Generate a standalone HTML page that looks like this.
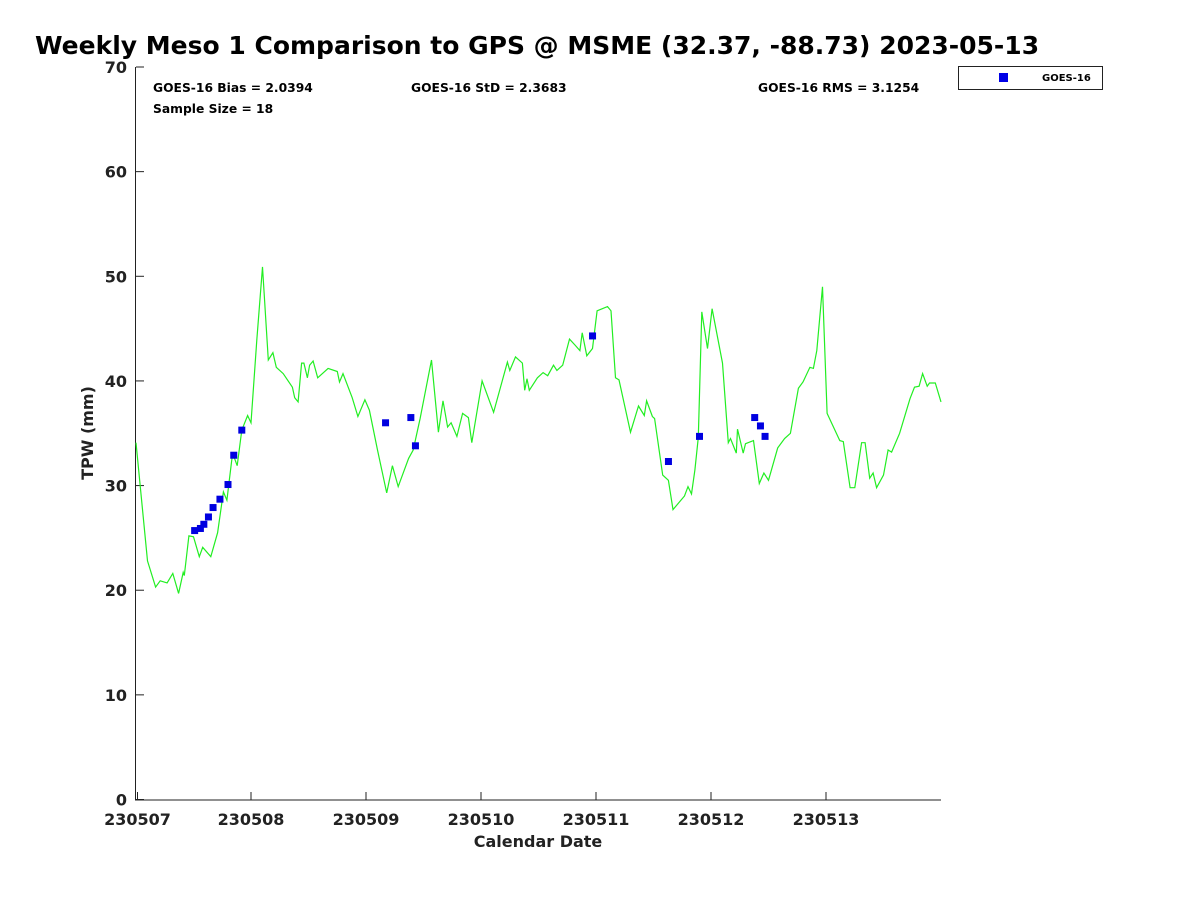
<!DOCTYPE html>
<html><head><meta charset="utf-8"><style>
body{margin:0;background:#fff;}
svg text{font-family:"DejaVu Sans","Liberation Sans",sans-serif;font-weight:bold;fill:#222;}
</style></head><body>
<svg id="chart" width="1200" height="900" xmlns="http://www.w3.org/2000/svg">
<rect width="1200" height="900" fill="#fff"/>
<text x="35" y="54" font-size="25" style="fill:#000">Weekly Meso 1 Comparison to GPS @ MSME (32.37, -88.73) 2023-05-13</text>
<g id="axes"></g>
<g id="series"></g>
<text x="153" y="92" font-size="12.3" style="fill:#000">GOES-16 Bias = 2.0394</text>
<text x="411" y="92" font-size="12.3" style="fill:#000">GOES-16 StD = 2.3683</text>
<text x="758" y="92" font-size="12.3" style="fill:#000">GOES-16 RMS = 3.1254</text>
<text x="153" y="113" font-size="12.3" style="fill:#000">Sample Size = 18</text>
<g>
<rect x="958.5" y="66.5" width="144" height="23" fill="#fff" stroke="#222" stroke-width="1"/>
<rect x="999" y="73" width="9" height="9" fill="#0000e6"/>
<text x="1042" y="81" font-size="10" style="fill:#000">GOES-16</text>
</g>
<text x="538" y="847" font-size="16" text-anchor="middle">Calendar Date</text>
<text transform="translate(93,433) rotate(-90)" font-size="16" text-anchor="middle">TPW (mm)</text>
</svg>
<script>
const xTickLabels=["230507","230508","230509","230510","230511","230512","230513"];
const yTicks=[0,10,20,30,40,50,60,70];
const gpsDays=[0,.10,.17,.21,.27,.32,.37,.41,.42,.46,.50,.55,.58,.65,.71,.76,.79,.84,.88,.92,.97,1.00,1.05,1.10,1.15,1.19,1.22,1.28,1.36,1.38,1.41,1.44,1.46,1.49,1.51,1.54,1.58,1.67,1.75,1.77,1.80,1.88,1.93,1.99,2.03,2.10,2.18,2.23,2.28,2.37,2.41,2.47,2.57,2.63,2.67,2.71,2.74,2.79,2.84,2.89,2.92,3.01,3.11,3.23,3.25,3.30,3.36,3.38,3.40,3.42,3.49,3.54,3.58,3.63,3.66,3.71,3.77,3.82,3.86,3.88,3.92,3.97,4.01,4.10,4.13,4.17,4.20,4.30,4.37,4.42,4.44,4.49,4.51,4.58,4.63,4.67,4.77,4.80,4.83,4.86,4.89,4.92,4.97,5.01,5.10,5.15,5.17,5.22,5.23,5.28,5.30,5.37,5.42,5.46,5.50,5.58,5.64,5.69,5.76,5.80,5.86,5.89,5.92,5.97,6.01,6.12,6.15,6.21,6.25,6.31,6.34,6.38,6.41,6.44,6.50,6.54,6.57,6.64,6.73,6.77,6.81,6.84,6.88,6.90,6.95,7.00];
const gpsTPW=[34.1,22.8,20.3,20.9,20.7,21.6,19.7,21.7,21.4,25.2,25.1,23.2,24.1,23.2,25.5,29.4,28.6,33.1,31.9,35.3,36.7,36.0,43.9,50.9,42.0,42.7,41.3,40.7,39.4,38.4,38.0,41.7,41.7,40.3,41.5,41.9,40.3,41.2,40.9,39.9,40.7,38.4,36.6,38.2,37.2,33.4,29.3,31.9,29.9,32.6,33.4,36.4,42.0,35.1,38.1,35.6,36.0,34.7,36.9,36.5,34.1,40.0,37.0,41.8,41.0,42.3,41.7,39.1,40.2,39.1,40.3,40.8,40.5,41.5,41.0,41.5,44.0,43.4,42.9,44.6,42.4,43.1,46.7,47.1,46.7,40.3,40.1,35.1,37.6,36.7,38.1,36.6,36.4,31.0,30.5,27.7,29.0,29.9,29.2,31.5,34.6,46.6,43.1,46.9,41.7,34.1,34.5,33.1,35.4,33.1,34.0,34.3,30.2,31.2,30.5,33.6,34.5,35.0,39.3,39.9,41.3,41.2,42.9,49.0,36.9,34.3,34.2,29.8,29.8,34.1,34.1,30.7,31.2,29.8,31.0,33.4,33.2,35.0,38.3,39.4,39.5,40.7,39.5,39.8,39.8,38.0];
const goesDays=[.51,.56,.59,.63,.67,.73,.80,.85,.92,2.17,2.39,2.43,3.97,4.63,4.90,5.38,5.43,5.47];
const goesTPW=[25.7,25.9,26.3,27.0,27.9,28.7,30.1,32.9,35.3,36.0,36.5,33.8,44.3,32.3,34.7,36.5,35.7,34.7];

const NS="http://www.w3.org/2000/svg";
const X0=136,X1=941,Y0=799.5,Y1=67;
const xs=d=>X0+d/7*(X1-X0);
const ys=v=>Y0-v/70*(Y0-Y1);
function mk(tag,attrs,parent){const e=document.createElementNS(NS,tag);for(const k in attrs)e.setAttribute(k,attrs[k]);parent.appendChild(e);return e;}
const axes=document.getElementById('axes'),series=document.getElementById('series');
let e=mk('line',{x1:135.5,y1:Y1,x2:135.5,y2:800,stroke:'#222','stroke-width':1},axes);


e=mk('line',{x1:135,y1:800,x2:X1,y2:800,stroke:'#222','stroke-width':1},axes);


yTicks.forEach(v=>{
  const y=ys(v);
  let t=mk('line',{x1:136,y1:y,x2:144,y2:y,stroke:'#222'},axes);
  
  
  let l=mk('text',{x:127,y:y+6,'font-size':16,'text-anchor':'end'},axes);l.textContent=v;
  
  
});
xTickLabels.forEach((s,i)=>{
  const x=xs(i)+(i==0?1.5:0);
  let t=mk('line',{x1:x,y1:800,x2:x,y2:792,stroke:'#222'},axes);
  
  
  let l=mk('text',{x:x,y:825,'font-size':16,'text-anchor':'middle'},axes);l.textContent=s;
  
  
});
const pts=gpsDays.map((d,i)=>xs(d).toFixed(1)+','+ys(gpsTPW[i]).toFixed(1)).join(' ');
const line=mk('polyline',{points:pts,fill:'none',stroke:'#22ee22','stroke-width':1.2},series);


goesDays.forEach((d,i)=>{
  const r=mk('rect',{x:xs(d)-3.5,y:ys(goesTPW[i])-3.5,width:7,height:7,fill:'#0000e0'},series);
  
  
});
</script>
</body></html>
